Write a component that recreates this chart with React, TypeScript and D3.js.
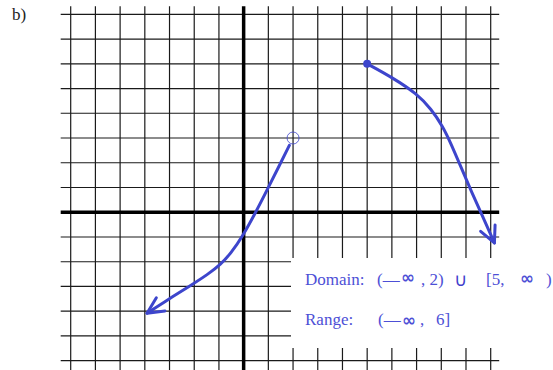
import React from "react";
import * as d3 from "d3";

// Grid extents in graph units
const xTicks = d3.range(-7, 11); // vertical grid lines x = -7 .. 10
const yTicks = d3.range(-6, 9); // horizontal grid lines y = -6 .. 8

// Left branch: from the open endpoint near (2, 3) down to the arrow tip
const leftOpenPoint: [number, number] = [2, 3];
const leftBranch: [number, number][] = [
  [1.85, 2.7],
  [1.4, 1.8],
  [0.95, 0.9],
  [0.5, 0.02],
  [-0.04, -0.97],
  [-0.51, -1.65],
  [-0.92, -2.1],
  [-1.46, -2.52],
  [-2.13, -2.95],
  [-2.81, -3.37],
  [-3.91, -4.08],
];

// Right branch: closed endpoint at (5, 6), falling off to the right
const rightClosedPoint: [number, number] = [5, 6];
const rightBranch: [number, number][] = [
  [5, 6],
  [6.03, 5.44],
  [7.04, 4.77],
  [7.58, 4.18],
  [8.06, 3.48],
  [8.39, 2.78],
  [8.8, 1.82],
  [9.2, 0.88],
  [9.61, -0.02],
  [10.15, -1.24],
];

const W = 553;
const H = 370;
const BLUE = "#3d45cc";
const TEXT_BLUE = "#4d4fd6";

const x = d3.scaleLinear().domain([-7, 10]).range([70.7, 490.7]);
const y = d3.scaleLinear().domain([-6, 8]).range([360.7, 14.3]);

const line = d3
  .line<[number, number]>()
  .x((d) => x(d[0]))
  .y((d) => y(d[1]))
  .curve(d3.curveBasis);

function arrowHead(pts: [number, number][], len = 18, spread = 26) {
  const a = pts[pts.length - 1];
  const b = pts[pts.length - 2];
  const tx = x(a[0]);
  const ty = y(a[1]);
  const ang = Math.atan2(y(b[1]) - ty, x(b[0]) - tx);
  const r = (spread * Math.PI) / 180;
  const p1 = [tx + len * Math.cos(ang - r), ty + len * Math.sin(ang - r)];
  const p2 = [tx + len * Math.cos(ang + r), ty + len * Math.sin(ang + r)];
  return `M${p1[0]},${p1[1]}L${tx},${ty}L${p2[0]},${p2[1]}`;
}

export default function App() {
  const gridLeft = x(-7) - 10;
  const gridRight = x(10) + 8.5;
  const gridTop = y(8) - 8;
  const gridBottom = H;

  return (
    <svg
      width={W}
      height={H}
      style={{ position: "absolute", left: 0, top: 0, background: "#fff" }}
    >
      <text x={12} y={20} fontFamily="Liberation Serif" fontSize={17} fill="#222">
        b)
      </text>

      {/* grid */}
      <g stroke="#1a1a1a" strokeWidth={1.2}>
        {xTicks
          .filter((t) => t !== 0)
          .map((t) => (
            <line key={"v" + t} x1={x(t)} x2={x(t)} y1={gridTop} y2={gridBottom} />
          ))}
        {yTicks
          .filter((t) => t !== 0)
          .map((t) => (
            <line key={"h" + t} x1={gridLeft} x2={gridRight} y1={y(t)} y2={y(t)} />
          ))}
      </g>

      {/* axes */}
      <g stroke="#000" strokeWidth={3.5}>
        <line x1={x(0)} x2={x(0)} y1={gridTop} y2={gridBottom} />
        <line x1={gridLeft} x2={gridRight} y1={y(0)} y2={y(0)} />
      </g>

      {/* function branches */}
      <g fill="none" stroke={BLUE} strokeWidth={3} strokeLinecap="round" strokeLinejoin="round">
        <path d={line(leftBranch) ?? ""} />
        <path d={arrowHead(leftBranch)} />
        <path d={line(rightBranch) ?? ""} />
        <path d={arrowHead(rightBranch)} />
      </g>
      <circle
        cx={x(leftOpenPoint[0])}
        cy={y(leftOpenPoint[1])}
        r={6}
        fill="none"
        stroke={BLUE}
        strokeWidth={1}
        opacity={0.8}
      />
      <circle cx={x(rightClosedPoint[0])} cy={y(rightClosedPoint[1])} r={4} fill={BLUE} />

      {/* domain / range note */}
      <rect x={291} y={258} width={W - 291} height={90} fill="#fff" />
      <g fontFamily="Liberation Serif" fontSize={17} fill={TEXT_BLUE}>
        <text x={305} y={285}>Domain:</text>
        <text x={377} y={285}>(—</text>
        <text x={401} y={283} fontFamily="DejaVu Sans" fontWeight="bold" fontSize={17}>∞</text>
        <text x={421} y={285}>, 2)</text>
        <text x={454} y={286} fontFamily="DejaVu Sans" fontSize={18} fill="#3f40cc">∪</text>
        <text x={486} y={285}>[5,</text>
        <text x={520} y={284} fontFamily="DejaVu Sans" fontWeight="bold" fontSize={17}>∞</text>
        <text x={546} y={285}>)</text>

        <text x={305} y={325}>Range:</text>
        <text x={378} y={325}>(—</text>
        <text x={402} y={326} fontFamily="DejaVu Sans" fontWeight="bold" fontSize={17}>∞</text>
        <text x={420} y={325}>,</text>
        <text x={436} y={325}>6]</text>
      </g>
    </svg>
  );
}
